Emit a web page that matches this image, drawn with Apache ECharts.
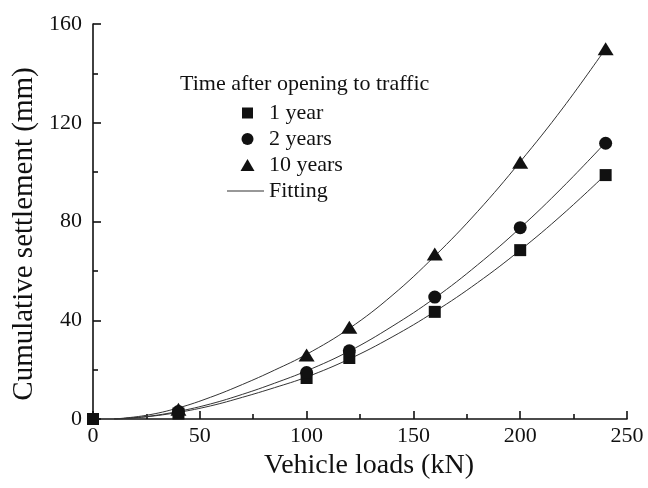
<!DOCTYPE html>
<html>
<head>
<meta charset="utf-8">
<script src="https://cdn.jsdelivr.net/npm/echarts@6/dist/echarts.min.js"></script>
<style>
html,body{margin:0;padding:0;background:#fff;}
#chart{width:648px;height:488px;}
</style>
</head>
<body>
<div id="chart"></div>
<script>
// Measured settlement at each vehicle load
const loads1 = [0, 40, 100, 120, 160, 200, 240];
const year1 = [0, 2.2, 16.6, 24.7, 43.4, 68.4, 98.8];
const loads = [40, 100, 120, 160, 200, 240];
const year2 = [3.0, 18.8, 27.6, 49.4, 77.5, 111.7];
const year10 = [4.0, 25.9, 37.2, 66.8, 104.0, 150.0];

// Fitted curves
const fitX = [10, 25, 40, 55, 70, 85, 100, 120, 140, 160, 180, 200, 220, 240];
const fit1 = [0, 0.9, 2.7, 5.3, 8.8, 12.7, 17.0, 24.3, 33.2, 43.5, 55.2, 68.4, 83.0, 99.0];
const fit2 = [0, 1.0, 3.1, 6.1, 10.0, 14.5, 19.5, 27.5, 37.5, 49.0, 62.4, 77.4, 94.0, 112.0];
const fit10 = [0, 1.5, 4.5, 8.8, 14.0, 19.8, 26.2, 36.7, 50.0, 66.0, 84.0, 104.2, 126.0, 150.0];

const xTicks = [0, 50, 100, 150, 200, 250];
const yTicks = [0, 40, 80, 120, 160];

const zip = (xs, ys) => xs.map((x, i) => [x, ys[i]]);
const serif = 'Liberation Serif';
const ink = '#111';

// Legend icons: each path spans the full 41x12 icon box (via zero-length
// end points) so the marker keeps its proportions inside the box.
const boxEnds = 'M0,6L0,6M41,6L41,6';
const iconSquare = 'path://' + boxEnds + 'M19,0.5L30,0.5L30,11.5L19,11.5Z';
const iconCircle = 'path://' + boxEnds + 'M18.5,6A6,6 0 1,1 30.5,6A6,6 0 1,1 18.5,6Z';
const iconTriangle = 'path://' + boxEnds + 'M17.5,12L24.5,0L31.5,12Z';
const iconLine = 'path://' + boxEnds + 'M4,5.5L41,5.5L41,6.5L4,6.5Z';

const chart = echarts.init(document.getElementById('chart'));

const fitSeries = [fit1, fit2, fit10].map(f => ({
  name: 'Fitting',
  type: 'line',
  data: zip(fitX, f),
  smooth: 0.4,
  symbol: 'none',
  lineStyle: {color: '#333', width: 1},
  itemStyle: {color: '#333'},
  z: 2
}));

const axisCommon = {
  type: 'value',
  axisLine: {show: true, lineStyle: {color: ink, width: 1.6}},
  axisTick: {show: true, inside: true, length: 8, lineStyle: {color: ink, width: 1.6}},
  minorTick: {show: true, splitNumber: 2, length: 5, lineStyle: {color: ink, width: 1.6}},
  splitLine: {show: false}
};

chart.setOption({
  animation: false,
  backgroundColor: '#fff',
  grid: {left: 93, right: 21, top: 24, bottom: 69},
  xAxis: Object.assign({}, axisCommon, {
    min: xTicks[0], max: xTicks[xTicks.length - 1], interval: 50,
    axisLabel: {fontFamily: serif, fontSize: 22, color: ink, margin: 6}
  }),
  yAxis: Object.assign({}, axisCommon, {
    min: yTicks[0], max: yTicks[yTicks.length - 1], interval: 40,
    axisLabel: {fontFamily: serif, fontSize: 22, color: ink, margin: 11}
  }),
  legend: {
    orient: 'vertical', left: 223, top: 102, padding: 0,
    itemWidth: 41, itemHeight: 12, itemGap: 4,
    textStyle: {fontFamily: serif, fontSize: 22, color: ink, lineHeight: 22},
    data: [
      {name: '1 year', icon: iconSquare},
      {name: '2 years', icon: iconCircle},
      {name: '10 years', icon: iconTriangle},
      {name: 'Fitting', icon: iconLine}
    ]
  },
  graphic: [
    {
      type: 'text', x: 180, y: 84,
      style: {text: 'Time after opening to traffic', font: '22px "Liberation Serif"', fill: ink,
              textVerticalAlign: 'middle'}
    },
    {
      type: 'text', x: 369, y: 466,
      style: {text: 'Vehicle loads (kN)', font: '28px "Liberation Serif"', fill: ink,
              textAlign: 'center', textVerticalAlign: 'middle'}
    },
    {
      type: 'text', x: 24, y: 234, rotation: Math.PI / 2,
      style: {text: 'Cumulative settlement (mm)', font: '29px "Liberation Serif"', fill: ink,
              textAlign: 'center', textVerticalAlign: 'middle'}
    }
  ],
  series: fitSeries.concat([
    {name: '1 year', type: 'scatter', data: zip(loads1, year1), symbol: 'rect', symbolSize: 12,
     itemStyle: {color: ink, opacity: 1}, z: 3},
    {name: '2 years', type: 'scatter', data: zip(loads, year2), symbol: 'circle', symbolSize: 13,
     itemStyle: {color: ink, opacity: 1}, z: 3},
    {name: '10 years', type: 'scatter', data: zip(loads, year10), symbol: 'triangle', symbolSize: [16, 13],
     itemStyle: {color: ink, opacity: 1}, z: 3}
  ])
});
</script>
</body>
</html>
